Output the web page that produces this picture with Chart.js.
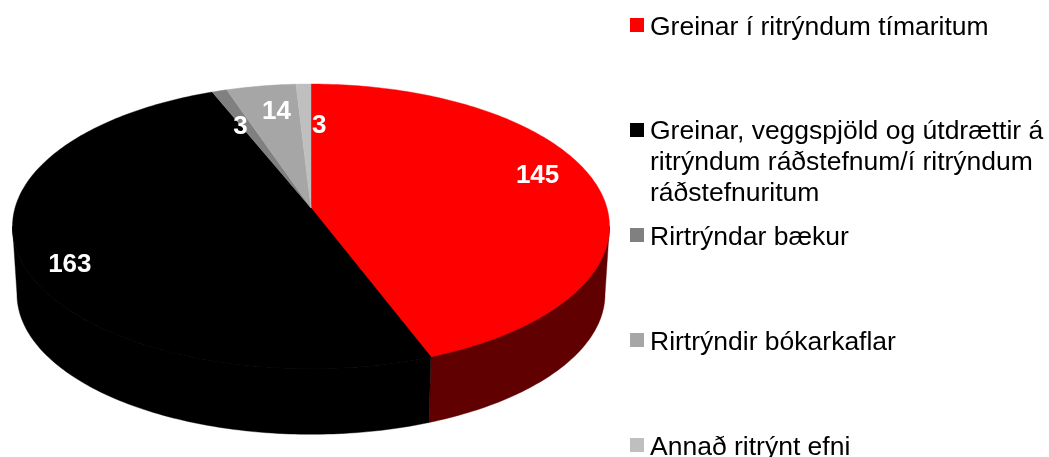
<!DOCTYPE html>
<html>
<head>
<meta charset="utf-8">
<style>
  html, body { margin: 0; padding: 0; background: #fff; overflow: hidden; }
  #wrap { position: relative; width: 1049px; height: 457px; }
</style>
<script src="https://cdn.jsdelivr.net/npm/chart.js@4/dist/chart.umd.min.js"></script>
</head>
<body>
<div id="wrap"><canvas id="pieChart" width="1049" height="457"></canvas></div>
<script>
const categories = [
  'Greinar í ritrýndum tímaritum',
  'Greinar, veggspjöld og útdrættir á ritrýndum ráðstefnum/í ritrýndum ráðstefnuritum',
  'Rirtrýndar bækur',
  'Rirtrýndir bókarkaflar',
  'Annað ritrýnt efni'
];
const values = [145, 163, 3, 14, 3];
const sliceColors = ['#ff0000', '#000000', '#808080', '#a6a6a6', '#bfbfbf'];
const sideColors = ['#600000', '#000000', '#4d4d4d', '#636363', '#737373'];

// tilt of the pie: perspective projection of the disc onto the page
const view = { cx: 311, cy: 208, rx: 296, ry: 140, persp: 0.129, depth: 68, shrink: 0.985 };
// label placement: fraction of the radius, then a small nudge in px
const labelFrac = [0.75, 0.78, 0.75, 0.75, 0.75];
const labelNudge = [[12, -13], [-18, 15], [0, 9], [4, -2], [14, 14]];
const legendTops = [18, 123, 228, 333, 438];

function project(angle, frac, lower) {
  const u = Math.cos(angle) * frac, v = Math.sin(angle) * frac;
  const w = 1 - view.persp * v;
  const k = lower ? view.shrink : 1;
  return {
    x: view.cx + k * view.rx * u / w,
    y: view.cy + k * view.ry * v / w + (lower ? view.depth : 0)
  };
}

function arcPoints(start, end, lower) {
  const n = Math.max(2, Math.ceil((end - start) * 60));
  const pts = [];
  for (let i = 0; i <= n; i++) pts.push(project(start + (end - start) * i / n, 1, lower));
  return pts;
}

function fillPoly(ctx, pts, color) {
  ctx.beginPath();
  pts.forEach((p, i) => i ? ctx.lineTo(p.x, p.y) : ctx.moveTo(p.x, p.y));
  ctx.closePath();
  ctx.fillStyle = color;
  ctx.strokeStyle = color;
  ctx.lineWidth = 0.4;
  ctx.fill();
  ctx.stroke();
}

function wrapText(ctx, text, maxWidth) {
  const lines = [];
  let line = '';
  text.split(' ').forEach(word => {
    const next = line ? line + ' ' + word : word;
    if (ctx.measureText(next).width > maxWidth && line) { lines.push(line); line = word; }
    else line = next;
  });
  lines.push(line);
  return lines;
}

// draws the arcs chart.js laid out as a tilted 3D pie, using their angles
const pie3d = {
  id: 'pie3d',
  beforeDatasetDraw(chart, args) {
    const ctx = chart.ctx;
    const arcs = args.meta.data;
    const apex = { x: view.cx, y: view.cy };
    // only the front of the rim shows, between the two widest points of the disc
    const frontStart = Math.asin(view.persp);
    const frontEnd = Math.PI - frontStart;
    ctx.save();
    arcs.forEach((arc, i) => {
      const start = Math.max(arc.startAngle, frontStart);
      const end = Math.min(arc.endAngle, frontEnd);
      if (end <= start) return;
      const top = arcPoints(start, end, false);
      const low = arcPoints(start, end, true).reverse();
      fillPoly(ctx, top.concat(low), sideColors[i]);
      // same colour under the face edge, avoids a pale seam along the rim
      fillPoly(ctx, [apex].concat(top), sideColors[i]);
    });
    arcs.forEach((arc, i) => {
      const top = arcPoints(arc.startAngle, arc.endAngle, false);
      fillPoly(ctx, [apex].concat(top), sliceColors[i]);
    });
    ctx.restore();
    return false;
  },
  afterDatasetsDraw(chart) {
    const ctx = chart.ctx;
    const arcs = chart.getDatasetMeta(0).data;
    ctx.save();
    ctx.font = 'bold 26px "Liberation Sans", Arial, sans-serif';
    ctx.fillStyle = '#ffffff';
    ctx.textAlign = 'center';
    ctx.textBaseline = 'middle';
    arcs.forEach((arc, i) => {
      const p = project((arc.startAngle + arc.endAngle) / 2, labelFrac[i], false);
      ctx.fillText(String(values[i]), p.x + labelNudge[i][0], p.y + labelNudge[i][1]);
    });

    ctx.font = '26.5px "Liberation Sans", Arial, sans-serif';
    ctx.textAlign = 'left';
    ctx.textBaseline = 'alphabetic';
    categories.forEach((name, i) => {
      const y = legendTops[i];
      ctx.fillStyle = sliceColors[i];
      ctx.fillRect(630, y, 14, 14);
      ctx.fillStyle = '#000000';
      const lines = wrapText(ctx, name, 398);
      const first = y + (lines.length > 1 ? 16 : 17);
      lines.forEach((line, j) => ctx.fillText(line, 650, first + j * 31));
    });
    ctx.restore();
  }
};

new Chart(document.getElementById('pieChart').getContext('2d'), {
  type: 'pie',
  data: {
    labels: categories,
    datasets: [{ data: values, backgroundColor: sliceColors, borderWidth: 0 }]
  },
  options: {
    responsive: false,
    animation: false,
    plugins: { legend: { display: false }, tooltip: { enabled: false } }
  },
  plugins: [pie3d]
});
</script>
</body>
</html>
